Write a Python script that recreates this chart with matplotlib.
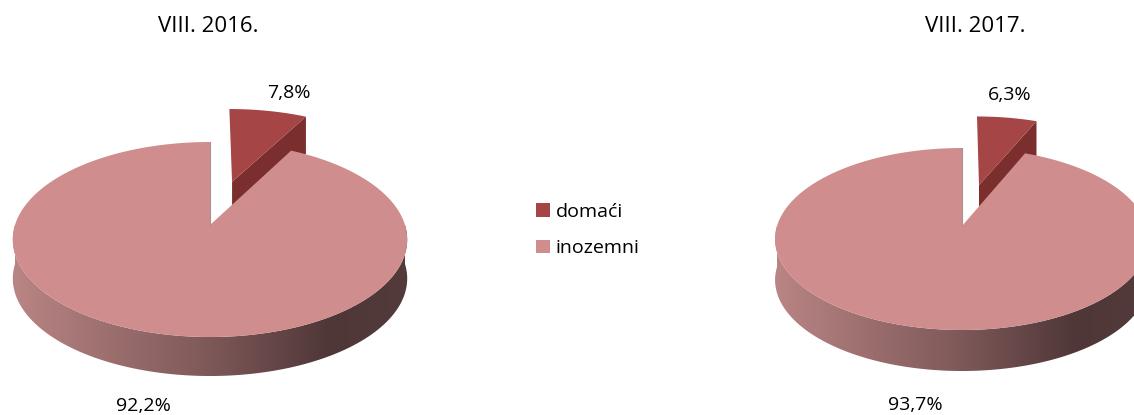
import numpy as np
import matplotlib
matplotlib.use("Agg")
import matplotlib.pyplot as plt
from matplotlib.patches import Polygon, Patch
from matplotlib.colors import LinearSegmentedColormap

# data
years = ["VIII. 2016.", "VIII. 2017."]
categories = ["domaći", "inozemni"]
domaci = [7.8, 6.3]
inozemni = [92.2, 93.7]

top_col = ["#a64545", "#cf8d8d"]
cut_col = "#7b2e2e"
side_cmap = LinearSegmentedColormap.from_list(
    "side", [(0, "#ba8585"), (0.5, "#7e5858"), (0.8, "#4f3738"), (1, "#533a3b")])

# pie geometry in pixels: apex, half width, top/bottom of the top ellipse, depth
pies = [dict(cx=210, cy=225, rx=195, top=142, bot=337, depth=39),
        dict(cx=962, cy=226, rx=185, top=148, bot=330, depth=41)]
explode = 0.5
title_pos = [(208, 26), (975, 26)]
lab_pos = [[(289, 93), (143, 406)], [(1010, 95), (915, 405)]]

FONT = "Open Sans"
FS = 14

fig = plt.figure(figsize=(11.34, 4.15), dpi=100)
ax = fig.add_axes([0, 0, 1, 1])
ax.set_xlim(0, 1134)
ax.set_ylim(415, 0)
ax.axis("off")


def make_proj(p):
    # simple perspective: ellipse whose centre sits above its middle
    a, T, B = p["cy"], p["top"], p["bot"]
    c = (2 * a - T - B) / (T - B)
    b = (T - B + c * (T + B)) / 2

    def proj(u, v, dz=0.0):
        den = 1 + c * v
        return p["cx"] + p["rx"] * u / den, (a + b * v) / den + dz
    return proj


def arc(proj, t0, t1, du=0.0, dv=0.0, dz=0.0, n=200):
    t = np.radians(np.linspace(t0, t1, n))
    x, y = proj(np.cos(t) + du, np.sin(t) + dv, dz)
    return np.column_stack([x, y])


for i, p in enumerate(pies):
    proj = make_proj(p)
    d = p["depth"]
    vals = [domaci[i], inozemni[i]]
    total = sum(vals)
    a0 = 90.0
    a1 = a0 - 360 * vals[0] / total
    a2 = a1 - 360 * vals[1] / total

    # exploded small slice
    mid = np.radians((a0 + a1) / 2)
    du, dv = explode * np.cos(mid), explode * np.sin(mid)
    ax0 = np.array(proj(du, dv))
    e1 = arc(proj, a1, a1, du, dv, n=1)[0]
    cut = [ax0, e1, e1 + [0, d * 0.95], ax0 + [0, d * 0.95]]
    ax.add_patch(Polygon(cut, closed=True, fc=cut_col, ec="none", zorder=1))
    pts = np.vstack([ax0, arc(proj, a0, a1, du, dv)])
    ax.add_patch(Polygon(pts, closed=True, fc=top_col[0], ec="none", zorder=2))

    # big slice: front side with gradient, then top
    front = np.vstack([arc(proj, 180, 360), arc(proj, 360, 180, dz=d)])
    side = Polygon(front, closed=True, fc="none", ec="none", zorder=3)
    ax.add_patch(side)
    grad = np.linspace(0, 1, 256).reshape(1, -1)
    im = ax.imshow(grad, cmap=side_cmap, aspect="auto", zorder=3,
                   extent=[p["cx"] - p["rx"] * 1.02, p["cx"] + p["rx"] * 1.02,
                           p["bot"] + d + 5, p["cy"] - 10])
    im.set_clip_path(side)
    apex = np.array(proj(0, 0))
    pts = np.vstack([apex, arc(proj, a1, a2)])
    ax.add_patch(Polygon(pts, closed=True, fc=top_col[1], ec="none", zorder=4))
    # thin edge of the cut face at 12 o'clock
    top12 = arc(proj, a2, a2, n=1)[0]
    ax.plot([apex[0], top12[0]], [apex[1], top12[1]], color="#a89090",
            lw=0.8, zorder=4)

    ax.text(*title_pos[i], years[i], ha="center", va="center",
            family=FONT, fontsize=FS + 2, color="#000000")
    for k in range(2):
        txt = f"{vals[k]:.1f}".replace(".", ",") + "%"
        ax.text(*lab_pos[i][k], txt, ha="center", va="center",
                family=FONT, fontsize=FS, color="#000000", zorder=5)

ax.set_xlim(0, 1134)
ax.set_ylim(415, 0)

handles = [Patch(facecolor=top_col[k], edgecolor="none") for k in range(2)]
ax.legend(handles, categories, loc="center left", bbox_to_anchor=(536, 230),
          bbox_transform=ax.transData, frameon=False, handlelength=0.7,
          handleheight=0.7, handletextpad=0.3, labelspacing=0.95, borderpad=0,
          borderaxespad=0, prop=dict(family=FONT, size=FS))

fig.savefig("out.png", dpi=100, facecolor="white")
